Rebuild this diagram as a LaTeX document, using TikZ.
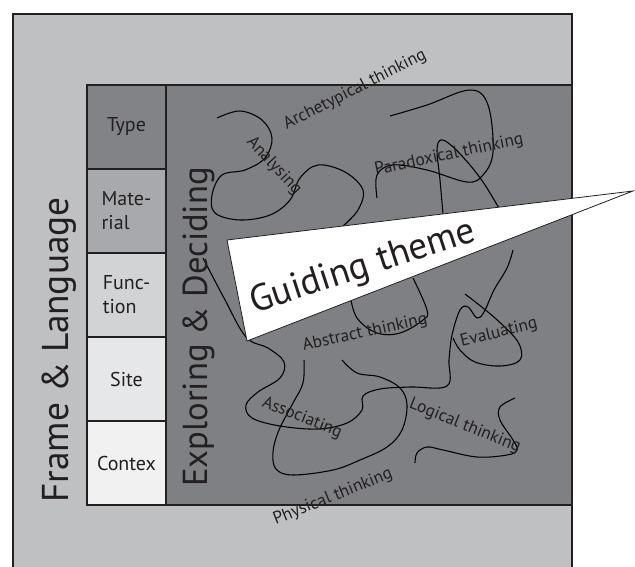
\documentclass[tikz,border=0pt]{standalone}
\usepackage{fontspec}
\setmainfont{PT Sans}
\definecolor{outergray}{HTML}{BEC0C2}
\definecolor{innergray}{HTML}{7E8083}
\definecolor{typegray}{HTML}{818386}
\definecolor{matgray}{HTML}{A7A9AC}
\definecolor{fungray}{HTML}{D1D3D4}
\definecolor{sitegray}{HTML}{E6E7E8}
\definecolor{contgray}{HTML}{F1F1F2}
\definecolor{inkgray}{HTML}{231F20}

\begin{document}
\begin{tikzpicture}[x=0.75pt,y=-0.75pt,
  cell/.style={draw=inkgray,line width=1.5pt,minimum width=59.25pt,minimum height=63pt,inner sep=0pt,align=left,font=\fontsize{15}{18}\selectfont,text=inkgray},
  bigtxt/.style={font=\fontsize{28}{30}\selectfont,text=inkgray,inner sep=0pt},
  mode/.style={font=\fontsize{13}{15}\selectfont,text=inkgray,inner sep=0pt},
  scribble/.style={draw=black,line width=0.8pt}]
\useasboundingbox (0,0) rectangle (635,567);
\clip (0,0) rectangle (635,567);
\fill[white] (0,0) rectangle (635,567);

\fill[outergray] (13,14) rectangle (572,580);
\draw[inkgray,line width=1.5pt] (13,580) -- (13,14) -- (572,14) -- (572,580);
\filldraw[fill=innergray,draw=inkgray,line width=1.5pt] (87,85) rectangle (572,505);

\node[cell,fill=typegray] (type) at (126.5,127) {Type};
\node[cell,fill=matgray] (material) at (126.5,211) {Mate-\\rial};
\node[cell,fill=fungray] (function) at (126.5,295) {Func-\\tion};
\node[cell,fill=sitegray] (site) at (126.5,379) {Site};
\node[cell,fill=contgray] (contex) at (126.5,463) {Contex};

\draw[scribble] plot[smooth,tension=0.6] coordinates {(217,118) (240,111) (262,120) (272,138) (265,158) (245,170) (222,175) (212,195) (215,213) (240,220) (270,215) (290,200) (300,178) (318,165) (345,172) (363,190) (358,210) (343,226)};
\draw[scribble] plot[smooth,tension=0.6] coordinates {(203,258) (224,298) (246,337) (268,348) (284,362) (280,378) (258,392) (246,405) (252,418) (280,426) (318,429) (347,423) (362,410) (363,396) (380,389) (410,387) (447,386) (449,360) (452,335) (460,310) (468,307) (477,318) (484,312) (494,290) (507,268) (513,250)};
\draw[scribble] plot[smooth,tension=0.6] coordinates {(342,360) (357,373) (380,377) (400,388) (407,405) (402,430) (387,447) (360,460) (333,470) (293,475) (276,469) (273,452) (279,430) (293,403) (303,383) (304,360)};
\draw[scribble] plot[smooth,tension=0.6] coordinates {(390,116) (427,105) (470,90) (488,105) (493,152) (483,175) (467,182) (427,170) (393,165) (377,175) (377,198)};
\draw[scribble] plot[smooth,tension=0.6] coordinates {(443,214) (440,180) (437,150) (441,140) (452,146) (470,165) (485,185) (500,210)};
\draw[scribble] plot[smooth,tension=0.6] coordinates {(350,295) (357,318) (377,333) (400,333) (423,320) (427,310) (413,278)};
\draw[scribble] plot[smooth,tension=0.6] coordinates {(465,294) (495,318) (518,342) (520,360) (500,366) (475,362) (460,350) (453,338)};
\draw[scribble] plot[smooth,tension=0.6] coordinates {(515,398) (500,407) (500,420) (513,440) (517,450) (507,455) (477,457) (443,450) (427,447) (417,453) (415,463)};

\filldraw[fill=white,draw=inkgray,line width=0.6pt] (227,240) -- (633,191) -- (247,341) -- cycle;

\node[bigtxt,rotate=90] (frame) at (59,350) {Frame \& Language};
\node[bigtxt,rotate=90,font=\fontsize{26}{28}\selectfont] (explore) at (199,327) {Exploring \& Deciding};
\node[bigtxt,rotate=18] (theme) at (363,268) {Guiding theme};

\node[mode,rotate=27] (archetypical) at (355,90) {Archetypical thinking};
\node[mode,rotate=-47] (analysing) at (274,166) {Analysing};
\node[mode,rotate=12] (paradoxical) at (449,155) {Paradoxical thinking};
\node[mode,rotate=12] (abstract) at (365,333) {Abstract thinking};
\node[mode,rotate=14] (evaluating) at (499,333) {Evaluating};
\node[mode,rotate=-22] (associating) at (302,418) {Associating};
\node[mode,rotate=-22] (logical) at (465,426) {Logical thinking};
\node[mode,rotate=22] (physical) at (333,497) {Physical thinking};
\end{tikzpicture}
\end{document}
